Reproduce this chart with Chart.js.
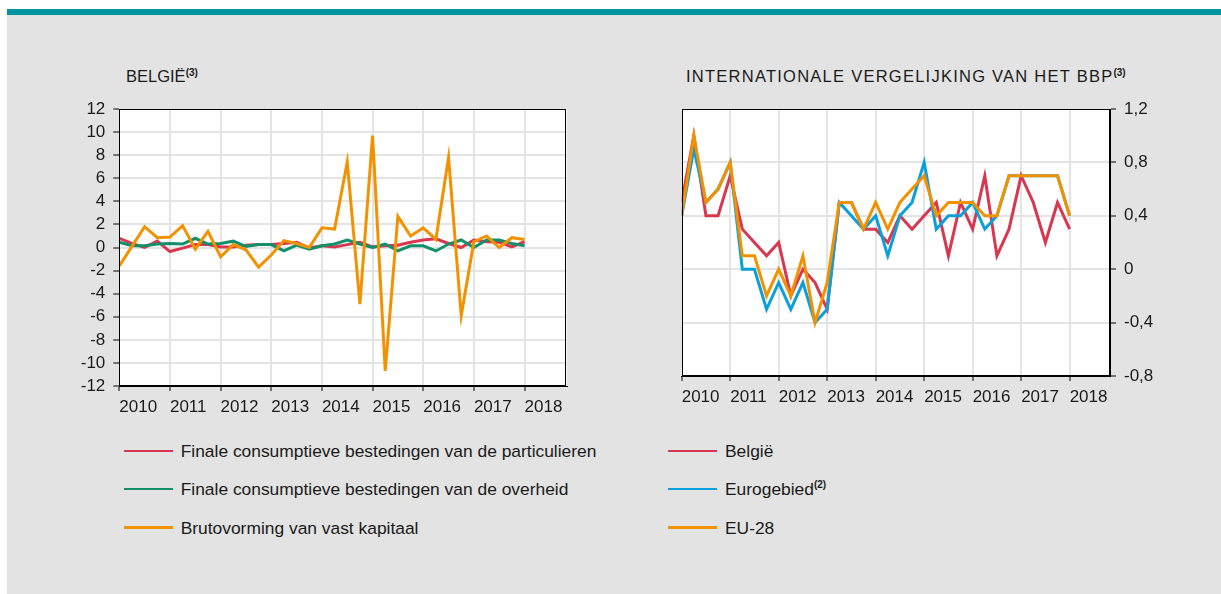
<!DOCTYPE html>
<html>
<head>
<meta charset="utf-8">
<script src="https://cdn.jsdelivr.net/npm/chart.js@4.4.0/dist/chart.umd.min.js"></script>
<style>
    body { margin: 0; background: #fff; font-family: "Liberation Sans", Arial, sans-serif; color: #1a1a1a; }
    #band { position: absolute; left: 7px; top: 9px; width: 1214px; height: 6px; background: #00959e; }
    #panel { position: absolute; left: 7px; top: 15px; width: 1214px; height: 579px; background: #e3e3e3; }
    .title { position: absolute; top: 66px; font-size: 16.5px; line-height: 20px; white-space: nowrap; }
    .title sup { font-size: 10px; font-weight: bold; vertical-align: 6px; line-height: 0; letter-spacing: 0; }
    canvas { position: absolute; }
    .item { position: absolute; font-size: 17.4px; line-height: 20px; white-space: nowrap; }
    .item span { position: absolute; top: 8.5px; height: 2.5px; }
    .item sup { font-size: 10px; font-weight: bold; vertical-align: 7px; line-height: 0; }
</style>
</head>
<body>
<div id="band"></div>
<div id="panel"></div>
<div class="title" style="left:126px">BELGIË<sup>(3)</sup></div>
<div class="title" style="left:686px; letter-spacing: 1.25px">INTERNATIONALE VERGELIJKING VAN HET BBP<sup>(3)</sup></div>
<canvas id="leftChart" width="540" height="335" style="left:50px; top:95px"></canvas>
<canvas id="rightChart" width="560" height="335" style="left:640px; top:95px"></canvas>
<div id="legends"></div>

<script>
// kwartalen 2010Q1 .. 2018Q1
var years = ['2010', '2011', '2012', '2013', '2014', '2015', '2016', '2017', '2018'];
var leftTicks = [-12, -10, -8, -6, -4, -2, 0, 2, 4, 6, 8, 10, 12];
var rightTicks = [-0.8, -0.4, 0, 0.4, 0.8, 1.2];

// links: Belgie, bestedingscomponenten
var particulieren = [0.8, 0.35, 0.0, 0.55, -0.35, -0.05, 0.25, 0.25, 0.05, 0.05, 0.2, 0.25, 0.25, 0.35, 0.45, -0.05, 0.15,
    0.05, 0.25, 0.45, 0.05, 0.15, 0.2, 0.45, 0.65, 0.75, 0.35, 0.0, 0.65, 0.5, 0.45, 0.05, 0.5];
var overheid = [0.45, 0.15, 0.15, 0.3, 0.35, 0.3, 0.8, 0.3, 0.35, 0.55, 0.1, 0.25, 0.25, -0.3, 0.2, -0.15, 0.15,
    0.3, 0.65, 0.3, 0.0, 0.3, -0.3, 0.15, 0.15, -0.3, 0.3, 0.65, 0.0, 0.65, 0.65, 0.35, 0.15];
var kapitaal = [-1.6, 0.1, 1.8, 0.85, 0.9, 1.9, -0.15, 1.4, -0.8, 0.25, -0.2, -1.7, -0.65, 0.6, 0.35, 0.0, 1.7,
    1.6, 7.4, -4.9, 9.7, -10.7, 2.7, 1.0, 1.7, 0.7, 7.8, -5.9, 0.5, 1.0, 0.0, 0.85, 0.7];

// rechts: internationale vergelijking bbp
var belgie = [0.5, 1.0, 0.4, 0.4, 0.7, 0.3, 0.2, 0.1, 0.2, -0.2, 0.0, -0.1, -0.3, 0.5, 0.5, 0.3, 0.3,
    0.2, 0.4, 0.3, 0.4, 0.5, 0.1, 0.5, 0.3, 0.7, 0.1, 0.3, 0.7, 0.5, 0.2, 0.5, 0.3];
var eurogebied = [0.4, 0.9, 0.5, 0.6, 0.8, 0.0, 0.0, -0.3, -0.1, -0.3, -0.1, -0.4, -0.3, 0.5, 0.4, 0.3, 0.4,
    0.1, 0.4, 0.5, 0.8, 0.3, 0.4, 0.4, 0.5, 0.3, 0.4, 0.7, 0.7, 0.7, 0.7, 0.7, 0.4];
var eu28 = [0.4, 1.0, 0.5, 0.6, 0.8, 0.1, 0.1, -0.2, 0.0, -0.2, 0.1, -0.4, -0.1, 0.5, 0.5, 0.3, 0.5,
    0.3, 0.5, 0.6, 0.7, 0.4, 0.5, 0.5, 0.5, 0.4, 0.4, 0.7, 0.7, 0.7, 0.7, 0.7, 0.4];

var leftNames = ['Finale consumptieve bestedingen van de particulieren', 'Finale consumptieve bestedingen van de overheid', 'Brutovorming van vast kapitaal'];
var rightNames = ['België', 'Eurogebied<sup>(2)</sup>', 'EU-28'];

var red = '#d9374f', green = '#12906a', orange = '#f39200', blue = '#0aa0dc';
var gridColor = '#e4e4e4';
var tickFont = { family: 'Liberation Sans, Arial, sans-serif', size: 17 };

Chart.defaults.font.family = 'Liberation Sans, Arial, sans-serif';
Chart.defaults.color = '#1a1a1a';

function points(values) {
    return values.map(function (v, i) { return { x: i, y: v }; });
}

function line(values, color, order) {
    return { data: points(values), borderColor: color, borderWidth: 3, pointRadius: 0, tension: 0, fill: false, order: order };
}

var plotFrame = {
    id: 'plotFrame',
    beforeDraw: function (chart) {
        var a = chart.chartArea, ctx = chart.ctx;
        ctx.save();
        ctx.fillStyle = '#fff';
        ctx.fillRect(a.left, a.top, a.right - a.left, a.bottom - a.top);
        ctx.restore();
    },
    afterDraw: function (chart) {
        var a = chart.chartArea, ctx = chart.ctx;
        ctx.save();
        ctx.strokeStyle = '#000';
        ctx.lineWidth = 1;
        ctx.strokeRect(Math.round(a.left) + 0.5, Math.round(a.top) + 0.5, Math.round(a.right - a.left) - 1, Math.round(a.bottom - a.top) - 1);
        ctx.restore();
    }
};

// vaste maten, zodat het plotvlak precies goed ligt
function noPadding(axis) {
    axis.paddingTop = 0;
    axis.paddingBottom = 0;
    axis.paddingLeft = 0;
    axis.paddingRight = 0;
}

function xAxis(height) {
    return {
        type: 'linear', min: 0, max: 35.33,
        afterBuildTicks: function (axis) { axis.ticks = years.map(function (y, i) { return { value: i * 4 }; }); },
        afterFit: function (axis) { axis.height = height; noPadding(axis); },
        grid: { color: gridColor, lineWidth: 2, tickColor: '#000', tickLength: 5, tickWidth: 1 },
        border: { display: true, color: '#000', width: 1 },
        ticks: { align: 'start', padding: 6, font: tickFont, maxRotation: 0, autoSkip: false,
            callback: function (v) { return years[v / 4]; } }
    };
}

function yAxis(tickList, position, width, fmt) {
    return {
        position: position, min: tickList[0], max: tickList[tickList.length - 1],
        afterBuildTicks: function (axis) { axis.ticks = tickList.map(function (v) { return { value: v }; }); },
        afterFit: function (axis) { axis.width = width; noPadding(axis); },
        grid: { color: gridColor, lineWidth: 2, tickColor: '#000', tickLength: 6, tickWidth: 1 },
        border: { display: true, color: '#000', width: 1 },
        ticks: { padding: 8, font: tickFont, autoSkip: false, callback: fmt }
    };
}

new Chart(document.getElementById('leftChart'), {
    type: 'line',
    data: {
        datasets: [
            line(particulieren, red, 2),
            line(overheid, green, 1),
            line(kapitaal, orange, 0)
        ]
    },
    options: {
        responsive: false, animation: false, devicePixelRatio: 1,
        layout: { padding: { left: 0, top: 14, right: 23.3, bottom: 0 } },
        plugins: { legend: { display: false }, tooltip: { enabled: false } },
        scales: {
            x: xAxis(44),
            y: yAxis(leftTicks, 'left', 69.3, function (v) { return String(v); })
        }
    },
    plugins: [plotFrame]
});

new Chart(document.getElementById('rightChart'), {
    type: 'line',
    data: {
        datasets: [
            line(belgie, red, 2),
            line(eurogebied, blue, 1),
            line(eu28, orange, 0)
        ]
    },
    options: {
        responsive: false, animation: false, devicePixelRatio: 1,
        layout: { padding: { left: 41.7, top: 14, right: 0, bottom: 0 } },
        plugins: { legend: { display: false }, tooltip: { enabled: false } },
        scales: {
            x: xAxis(54),
            y: yAxis(rightTicks, 'right', 90, function (v) { return String(v).replace('.', ','); })
        }
    },
    plugins: [plotFrame]
});

// legende in html
function legend(names, colors, left) {
    var html = '';
    names.forEach(function (name, k) {
        html += '<div class="item" style="left:' + (left + 56.7) + 'px; top:' + (441 + k * 38.3) + 'px">' +
            '<span style="left:-56.7px; width:49px; background:' + colors[k] + '"></span>' + name + '</div>';
    });
    return html;
}
document.getElementById('legends').innerHTML =
    legend(leftNames, [red, green, orange], 124) + legend(rightNames, [red, blue, orange], 668.3);
</script>
</body>
</html>
